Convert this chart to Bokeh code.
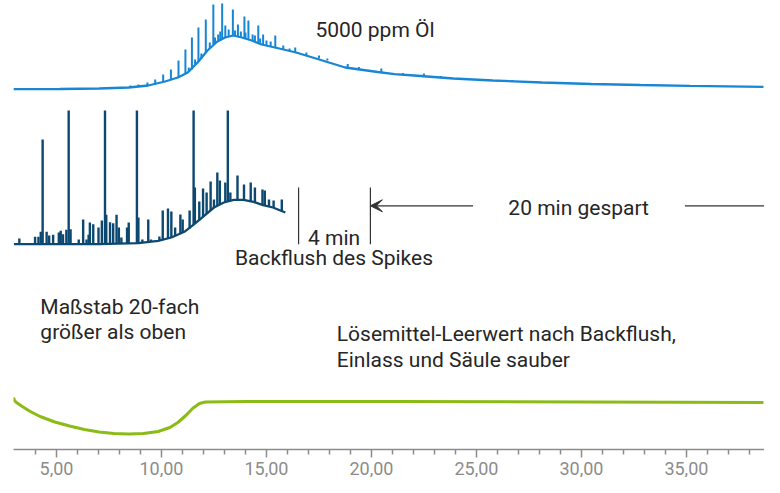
from bokeh.plotting import figure
from bokeh.models import Range1d, FixedTicker, Label, Arrow, VeeHead
from bokeh.embed import file_html
from bokeh.resources import INLINE

# ---------------- data ----------------
tick_values = [5, 10, 15, 20, 25, 30, 35]
tick_labels = ["5,00", "10,00", "15,00", "20,00", "25,00", "30,00", "35,00"]
minor_tick_values = [4, 6, 7, 8, 9, 11, 12, 13, 14, 16, 17, 18, 19, 21, 22, 23, 24,
                     26, 27, 28, 29, 31, 32, 33, 34, 36, 37, 38]

# 5000 ppm oil (top trace) – baseline/hump
oil_time = [2.95, 5.15, 7.03, 8.44, 9.37, 10.17, 10.78, 11.25, 11.72, 12.19, 12.66,
            13.03, 13.41, 13.83, 14.30, 14.77, 15.61, 16.41, 17.2, 18.75, 20.3, 21.1,
            22.03, 23.9, 25.78, 28.12, 30.47, 32.81, 35.16, 38.67]
oil_signal = [0.3, 0.5, 1, 2, 4, 8, 12, 17, 27, 39, 48,
              52, 54, 52, 49, 45, 41, 37, 32, 22, 17.5, 15.3,
              14, 11, 9, 7, 5.5, 4.5, 3.7, 2.7]
# oil peaks
oil_peak_time = [8.52, 8.9, 9.33, 9.70, 10.08, 10.45, 10.81, 11.14, 11.45, 11.76, 12.11,
                 12.47, 12.70, 12.89, 13.04, 13.40, 13.64, 13.95, 14.14, 14.34, 14.61,
                 14.84, 15.42, 16.37, 17.5, 18.87, 20.47, 22.5,
                 11.3, 11.6, 11.9, 12.3, 12.55, 12.8, 13.2, 13.5, 13.78, 14.0, 14.45,
                 14.7, 15.0, 15.2, 15.8, 16.1, 16.9, 17.9, 19.4, 21.5, 23.3, 24.6, 26.7]
oil_peak_base = [2, 2.5, 3.5, 5, 7.5, 10, 12, 16, 20, 28, 37,
                 45, 48, 50, 52, 54, 53, 51, 50, 49, 47,
                 45, 42, 37, 31, 22, 17.5, 13.5,
                 18, 25, 31, 41, 46, 49, 53, 54, 52, 51, 48,
                 46, 44, 43, 40, 38.5, 34, 29, 20.5, 15, 12, 10.5, 8.5]
oil_peak_top = [4, 5, 7, 10, 15, 20, 29, 40, 52, 62, 70,
                85, 55, 86, 64, 80, 65, 73, 69, 55, 64,
                55, 54, 42, 34, 25.5, 21, 16,
                22, 30, 36, 47, 52, 58, 60, 59, 58, 57, 54,
                51, 49, 48, 44, 41, 37, 31, 22.5, 16.5, 13.5, 11.5, 9.5]

# spiked sample with backflush (middle trace)
spike_time = [2.97, 7.03, 8.9, 9.84, 10.47, 11.09, 11.56, 12.03, 12.5, 12.97, 13.44,
              13.91, 14.38, 14.84, 15.31, 15.9]
spike_signal = [0.3, 0.3, 1.3, 3.7, 7, 12.7, 20.3, 28.7, 37, 42, 44.7,
                44.7, 42.7, 39.3, 37, 32]
spike_peak_time = [3.23, 3.98, 4.14, 4.25, 4.34, 4.53, 4.65, 4.84, 5.11, 5.2, 5.31, 5.47,
                   5.58, 5.67, 6.06, 6.27, 6.43, 6.53, 6.59, 6.75, 7.0, 7.16, 7.31, 7.37,
                   7.55, 7.7, 7.86, 7.97, 8.09, 8.36, 8.44, 8.83, 8.9, 9.09, 9.37, 9.5,
                   9.9, 10.06, 10.31, 10.47, 10.65, 10.9, 11.01, 11.34, 11.53, 11.59,
                   11.8, 11.98, 12.15, 12.34, 12.5, 12.66, 12.78, 13.04, 13.16, 13.28,
                   13.62, 13.93, 14.25, 14.45, 14.81, 14.92, 15.12, 15.34, 15.73]
spike_peak_base = [0.3, 0.3, 0.3, 0.3, 0.3, 0.3, 0.3, 0.3, 0.3, 0.3, 0.3, 0.3,
                   0.3, 0.3, 0.3, 0.3, 0.3, 0.3, 0.3, 0.3, 0.3, 0.3, 0.3, 0.3,
                   0.4, 0.5, 0.6, 0.6, 0.7, 0.9, 1, 1.2, 1.3, 1.8, 2.5, 2.8,
                   3.9, 4.5, 6, 7, 8.5, 11, 12, 16, 20, 21,
                   24, 28, 31, 34, 37, 39, 40, 42, 43, 43.5,
                   45, 44.7, 43.5, 42.5, 39.5, 39, 38, 37, 33.5]
spike_peak_top = [6, 7.7, 7.7, 12.7, 105, 12.7, 9, 9.7, 12, 13.7, 10.3, 14.7,
                  134, 15.3, 5, 25, 5, 9.7, 22, 20.3, 17, 24, 134, 29.7,
                  22.3, 21.3, 29.7, 17, 7, 17, 22, 134, 27, 5, 25, 5,
                  8, 34, 36, 33, 17, 30, 25, 34, 134, 57,
                  43, 56, 52, 63, 45, 72, 64, 62, 134, 52,
                  69, 60, 62, 57, 55, 54, 45, 44, 45]

# solvent blank after backflush (bottom trace)
blank_time = [2.95, 3.0, 3.09, 3.37, 3.75, 4.22, 4.92, 5.62, 6.33, 7.03, 7.73, 8.44,
              9.14, 9.84, 10.4, 10.78, 11.16, 11.48, 11.81, 12.09, 14.06, 21.1, 30.47, 38.67]
blank_signal = [4, 1, -1, -5, -10, -15, -20.5, -24.5, -28, -30.5, -32, -32.5,
                -32, -30, -26, -21, -14, -7, -2, -0.5, 0, 0, -0.5, -1]

# event markers (minutes)
backflush_start = 16.53
backflush_end = 19.95
run_end = 38.7

# ---------------- layout constants ----------------
oil_offset = 360
spike_offset = 205
blank_offset = 48

TEXT = "#262626"
AXIS = "#8c8c8c"
OIL = "#1786d4"
SPK = "#0c4870"
BLK = "#8bbb16"
MARK = "#333333"

p = figure(width=764, height=477, x_range=Range1d(2.952, 38.72), y_range=Range1d(0, 449),
           output_backend="svg", toolbar_location=None, y_axis_location=None,
           min_border_left=13, min_border_right=0, min_border_top=0, min_border_bottom=0,
           background_fill_color="white", border_fill_color="white", outline_line_color=None)
p.grid.visible = False

ax = p.xaxis[0]
ax.ticker = FixedTicker(ticks=tick_values, minor_ticks=minor_tick_values)
ax.major_label_overrides = dict(zip(tick_values, tick_labels))
ax.axis_line_color = AXIS
ax.axis_line_width = 1.5
ax.major_tick_line_color = AXIS
ax.major_tick_line_width = 1.5
ax.minor_tick_line_color = AXIS
ax.minor_tick_line_width = 1.5
ax.major_tick_in = 0
ax.major_tick_out = 8
ax.minor_tick_in = 0
ax.minor_tick_out = 5
ax.major_label_text_font = "Roboto"
ax.major_label_text_font_size = "18px"
ax.major_label_text_color = AXIS
ax.major_label_standoff = 4

p.line(oil_time, [oil_offset + v for v in oil_signal], line_color=OIL, line_width=2.3)
p.segment(x0=oil_peak_time, y0=[oil_offset + v for v in oil_peak_base],
          x1=oil_peak_time, y1=[oil_offset + v for v in oil_peak_top], line_color=OIL, line_width=2)

p.line(spike_time, [spike_offset + v for v in spike_signal], line_color=SPK, line_width=2.3)
p.segment(x0=spike_peak_time, y0=[spike_offset + v for v in spike_peak_base],
          x1=spike_peak_time, y1=[spike_offset + v for v in spike_peak_top], line_color=SPK, line_width=2.4)

p.line(blank_time, [blank_offset + v for v in blank_signal], line_color=BLK, line_width=3)

# backflush markers
p.segment(x0=[backflush_start, backflush_end], y0=[205.3, 205.3],
          x1=[backflush_start, backflush_end], y1=[262, 262], line_color=MARK, line_width=1.2)
p.add_layout(Arrow(end=VeeHead(size=12, fill_color=MARK, line_color=MARK),
                   x_start=24.84, y_start=243.7, x_end=backflush_end, y_end=243.7,
                   line_color=MARK, line_width=1.2))
p.segment(x0=[34.93], y0=[243.7], x1=[run_end], y1=[243.7], line_color=MARK, line_width=1.2)

def lab(x, y, s):
    p.add_layout(Label(x=x, y=y, text=s, text_font="Roboto", text_font_size="21px",
                       text_color=TEXT, text_baseline="middle", text_align="left"))

lab(17.33, 419.5, "5000 ppm Öl")
lab(26.52, 241.2, "20 min gespart")
lab(16.98, 212, "4 min")
lab(13.5, 191.2, "Backflush des Spikes")
lab(4.23, 142.8, "Maßstab 20-fach")
lab(4.23, 117.8, "größer als oben")
lab(18.35, 115.7, "Lösemittel-Leerwert nach Backflush,")
lab(18.35, 89.8, "Einlass und Säule sauber")

open("out.html", "w").write(file_html(p, INLINE))
